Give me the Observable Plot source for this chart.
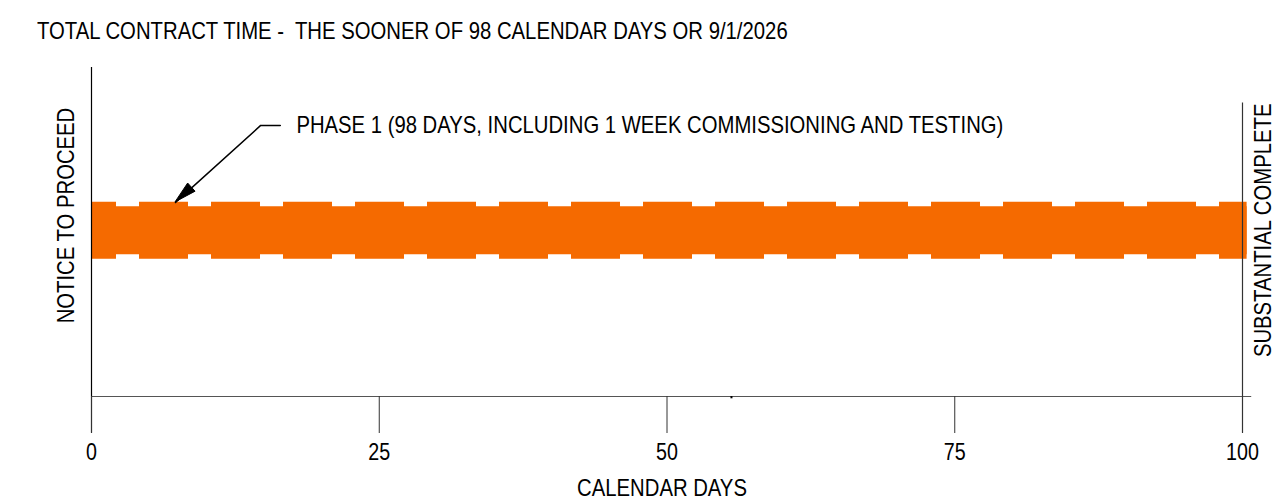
<!DOCTYPE html>
<html>
<head>
<meta charset="utf-8">
<script src="https://cdn.jsdelivr.net/npm/d3@7"></script>
<script src="https://cdn.jsdelivr.net/npm/@observablehq/plot@0.6"></script>
<style>
  html, body { margin: 0; padding: 0; background: #fff; }
  #wrap { position: relative; width: 1287px; height: 499px; overflow: hidden; }
  #title { position: absolute; left: 37px; top: 19px; font-family: "Liberation Sans Narrow", "Arial Narrow", "Liberation Sans", sans-serif; font-size: 24px; line-height: 1; color: #000; white-space: pre; transform: scaleX(0.846); transform-origin: 0 0; }
  #chart { position: absolute; left: 0; top: 0; }
</style>
</head>
<body>
<div id="wrap">
  <div id="title">TOTAL CONTRACT TIME -  THE SOONER OF 98 CALENDAR DAYS OR 9/1/2026</div>
  <div id="chart"></div>
</div>
<script>
// ---- data ----
const dayTicks = [0, 25, 50, 75, 100];
const phaseNames = ["PHASE 1 (98 DAYS, INCLUDING 1 WEEK COMMISSIONING AND TESTING)"];
const phaseStart = [0];
const phaseEnd = [100.4];
const phaseRow = [50.5];
const milestoneNames = ["NOTICE TO PROCEED", "SUBSTANTIAL COMPLETE"];
const milestoneDays = [0, 100];
const markerDay = [55.6];
const calloutElbow = [14.7, 82.4];   // [day, row]
const calloutTip = [7.3, 59];        // [day, row]
const calloutTextStart = [17.8, 82.4];

const FONT = '"Liberation Sans", Arial, sans-serif';
const ORANGE = "#f56a00";
const CONDENSE = 0.845;      // narrow-font look
const TICK_CONDENSE = 0.82;

const phases = phaseNames.map((name, i) => ({name, start: phaseStart[i], end: phaseEnd[i], row: phaseRow[i]}));
const leader = [
  {x: calloutElbow[0] + 1.7, y: calloutElbow[1]},
  {x: calloutElbow[0], y: calloutElbow[1]},
  {x: calloutTip[0], y: calloutTip[1]}
];

function arrowHead(...args) {
  const scales = args.find(a => a && typeof a.x === "function" && typeof a.y === "function");
  const ex = scales.x(calloutElbow[0]), ey = scales.y(calloutElbow[1]);
  const tx = scales.x(calloutTip[0]), ty = scales.y(calloutTip[1]);
  const ang = Math.atan2(ty - ey, tx - ex);
  const L = 22, W = 5.5;
  const bx = tx - L * Math.cos(ang), by = ty - L * Math.sin(ang);
  const px = -Math.sin(ang) * W, py = Math.cos(ang) * W;
  const path = `M${tx},${ty}L${bx + px},${by + py}L${bx - px},${by - py}Z`;
  return d3.create("svg:path").attr("d", path).attr("fill", "#000").attr("stroke", "#000").attr("stroke-width", 1).node();
}

const plot = Plot.plot({
  width: 1287,
  height: 499,
  marginLeft: 91,
  marginRight: 45,
  marginTop: 67,
  marginBottom: 103,
  style: {fontFamily: FONT, background: "transparent"},
  x: {domain: [0, 100]},
  y: {domain: [0, 100], axis: null},
  marks: [
    Plot.ruleY(phases, {y: "row", x1: "start", x2: "end", stroke: ORANGE, strokeWidth: 48}),
    Plot.ruleY(phases, {y: "row", x1: "start", x2: "end", stroke: ORANGE, strokeWidth: 57, strokeDasharray: "49 23", strokeDashoffset: 24}),
    Plot.ruleY([0], {x1: 0, x2: 100.8, stroke: "#555", strokeWidth: 1.2}),
    Plot.ruleX([milestoneDays[0]], {y1: -11.2, y2: 100, stroke: "#000", strokeWidth: 1.2}),
    Plot.ruleX([milestoneDays[1]], {y1: -11.2, y2: 89.2, stroke: "#333", strokeWidth: 1.2}),
    Plot.ruleX(markerDay, {y1: 0, y2: -0.7, stroke: "#000", strokeWidth: 2}),
    Plot.axisX({ticks: dayTicks, tickSize: 37, tickPadding: 9, fontSize: 24, stroke: "#333", label: null, tickFormat: d => String(d)}),
    Plot.text(["CALENDAR DAYS"], {frameAnchor: "bottom", dx: -5, dy: 99, fontSize: 24, fill: "#000", lineAnchor: "bottom"}),
    Plot.text([milestoneNames[0]], {x: milestoneDays[0], y: 55, rotate: -90, dx: -25, fontSize: 24, fill: "#000"}),
    Plot.text([milestoneNames[1]], {x: milestoneDays[1], y: 50.5, rotate: -90, dx: 21, fontSize: 24, fill: "#000"}),
    Plot.line(leader, {x: "x", y: "y", stroke: "#000", strokeWidth: 1.5}),
    arrowHead,
    Plot.text([phaseNames[0]], {x: calloutTextStart[0], y: calloutTextStart[1], textAnchor: "start", fontSize: 24, fill: "#000"})
  ]
});
document.getElementById("chart").appendChild(plot);

// condense text to mimic a narrow typeface
const svg = plot.tagName.toLowerCase() === "svg" ? plot : plot.querySelector("svg");
svg.querySelectorAll("text").forEach(t => {
  const inTicks = t.closest("g[aria-label='x-axis tick label']") != null;
  const k = inTicks ? TICK_CONDENSE : CONDENSE;
  const len = t.getComputedTextLength();
  if (len > 0) {
    t.setAttribute("textLength", (len * k).toFixed(2));
    t.setAttribute("lengthAdjust", "spacingAndGlyphs");
  }
});
</script>
</body>
</html>
